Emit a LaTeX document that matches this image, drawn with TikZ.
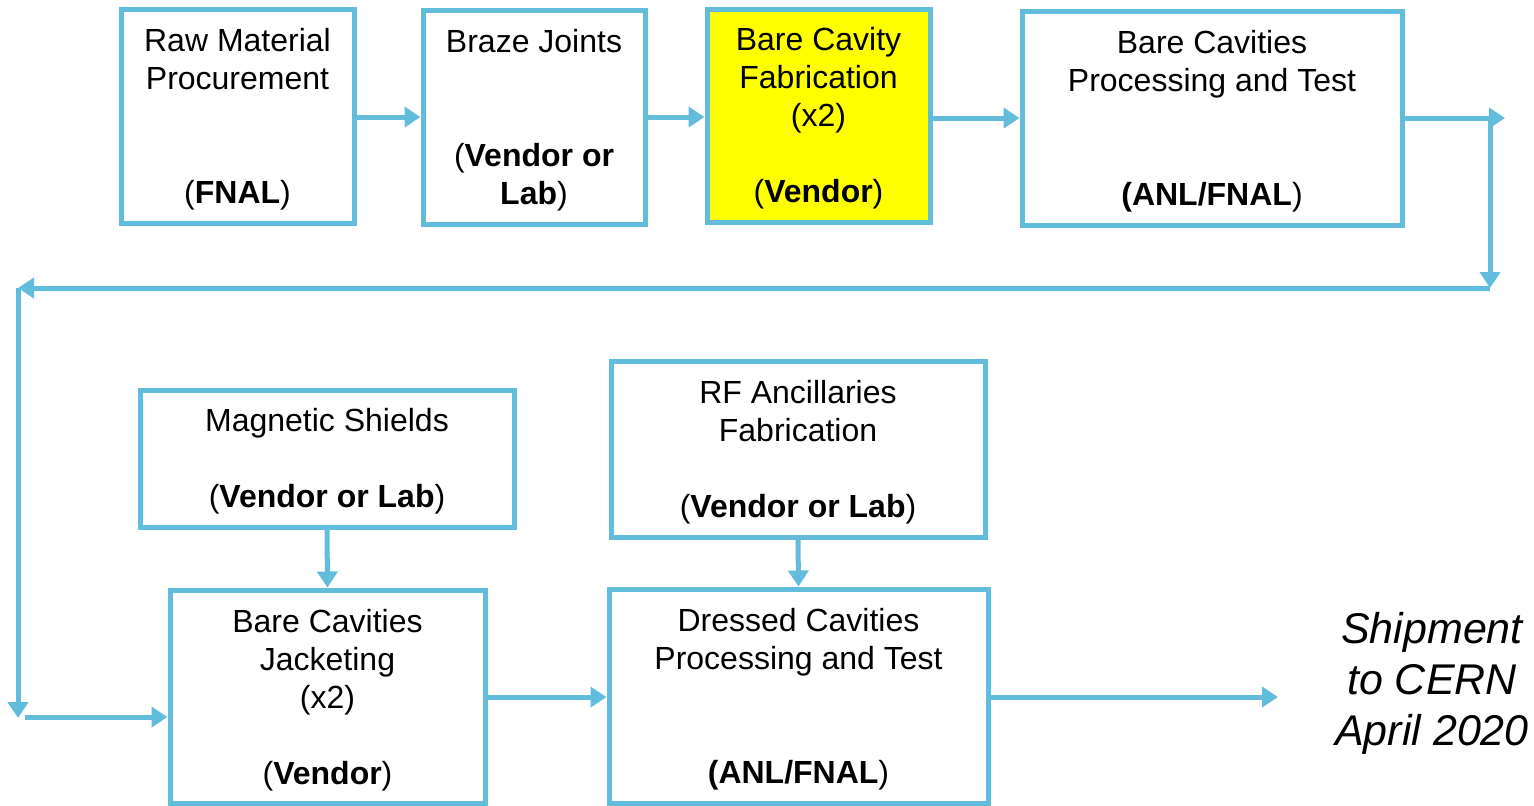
\documentclass[tikz,border=0pt]{standalone}
\usepackage{fontspec}
\setmainfont{Liberation Sans}
\usetikzlibrary{arrows.meta}
\definecolor{bblue}{RGB}{98,188,220}
\definecolor{byellow}{RGB}{255,255,0}
\tikzset{
  stepbox/.style={draw=bblue,line width=2.5pt,fill=white,inner sep=0pt},
  steptext/.style={align=center,inner sep=0pt,font=\fontsize{16}{19}\selectfont},
  conn/.style={draw=bblue,line width=2.5pt,-{Triangle[length=8pt,width=10pt]}},
}
\newcommand{\bx}[7]{% name, x1,y1,x2,y2, extra style, text
  \node[stepbox,#6,minimum width={(#4-#2)*0.5pt},minimum height={(#5-#3)*0.5pt}]
    (#1) at ({(#2+#4)/2},{(#3+#5)/2}) {};
  \node[steptext,yshift=-1.6pt] (#1t) at (#1.center) {#7};}
\begin{document}
\begin{tikzpicture}[x=0.5pt,y=-0.5pt]
\useasboundingbox (0,0) rectangle (1534,805);
\bx{raw}{121}{9}{354}{223}{}{Raw Material\\Procurement\\~\\~\\(\textbf{FNAL})}
\bx{braze}{423}{10}{645}{224}{}{Braze Joints\\~\\~\\(\textbf{Vendor or}\\\textbf{Lab})}
\bx{fab}{707}{9}{930}{222}{fill=byellow}{Bare Cavity\\Fabrication\\(x2)\\~\\(\textbf{Vendor})}
\bx{proc}{1022}{11}{1402}{225}{}{Bare Cavities\\Processing and Test\\~\\~\\\textbf{(ANL/FNAL})}
\bx{mag}{140}{390}{514}{527}{}{Magnetic Shields\\~\\(\textbf{Vendor or Lab})}
\bx{rf}{611}{361}{985}{537}{}{RF Ancillaries\\Fabrication\\~\\(\textbf{Vendor or Lab})}
\bx{jack}{170}{590}{485}{803}{}{Bare Cavities\\Jacketing\\(x2)\\~\\(\textbf{Vendor})}
\bx{dress}{609}{589}{988}{803}{}{Dressed Cavities\\Processing and Test\\~\\~\\\textbf{(ANL/FNAL})}
\node[align=center,font=\fontsize{21.5}{25.5}\selectfont\itshape] (ship) at (1432,683)
  {Shipment\\to CERN\\April 2020};
\coordinate (c1) at (1505,118);
\coordinate (c2) at (1490,118);
\coordinate (c3) at (1490,288);
\coordinate (c4) at (18,288);
\coordinate (c5) at (18,718);
\coordinate (c6) at (25,717);
\coordinate (c7) at (1278,697);
\draw[conn] (raw.east |- 0,117) -- (braze.west |- 0,117);
\draw[conn] (braze.east |- 0,117) -- (fab.west |- 0,117);
\draw[conn] (fab.east |- 0,118) -- (proc.west |- 0,118);
\draw[conn] (proc.east |- c1) -- (c1);
\draw[conn] (c2) -- (c3);
\draw[conn] (c3) -- (c4);
\draw[conn] (c4) -- (c5);
\draw[conn] (c6) -- (jack.west |- c6);
\draw[conn] (mag.south) -- (jack.north);
\draw[conn] (rf.south) -- (dress.north);
\draw[conn] (jack.east |- 0,697) -- (dress.west |- 0,697);
\draw[conn] (dress.east |- c7) -- (c7);
\end{tikzpicture}
\end{document}
